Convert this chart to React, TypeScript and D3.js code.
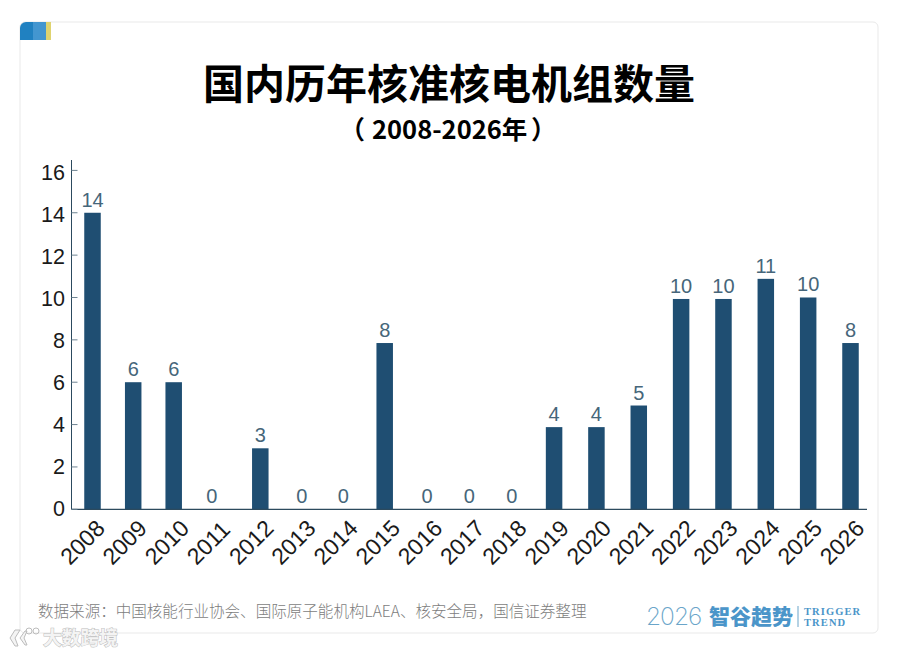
import React from "react";
import * as d3 from "d3";

const years = ["2008","2009","2010","2011","2012","2013","2014","2015","2016","2017","2018","2019","2020","2021","2022","2023","2024","2025","2026"];
const approvals = [14,6,6,0,2.88,0,0,7.85,0,0,0,3.88,3.88,4.9,9.93,9.93,10.88,10,7.85];
const yTicks = [0,2,4,6,8,10,12,14,16];

const title = "国内历年核准核电机组数量";
const subtitleRange = "2008-2026年";
const source = "数据来源：中国核能行业协会、国际原子能机构LAEA、核安全局，国信证券整理";
const flagColors = ["#2081c1", "#4396d0", "#dfd36f"];

const cjk = "'Noto Sans CJK SC', sans-serif";
const latin = "'Liberation Sans', Arial, sans-serif";
const serif = "'Liberation Serif', serif";

const width = 900;
const height = 655;
const axisX = 71.5;
const barWidth = 16.5;

export default function App() {
  // the columns in the source are not quite evenly spaced on the left side
  const x = d3
    .scaleLinear()
    .domain([2008, 2009, 2010, 2011, 2012, 2015, 2026])
    .range([92.5, 133.2, 173.7, 211.7, 260.3, 384.7, 850.5]);
  const labelX = d3.scalePoint<string>().domain(years).range([70, 829.5]);
  const y = d3.scaleLinear().domain([0, 16]).range([509.3, 170.4]);
  const tickLabelY = d3.scaleLinear().domain([0, 16]).range([516, 180]);
  const flagX = d3.scaleOrdinal<number, number>().domain([0, 1, 2]).range([20, 33, 46]);
  const flagW = [13, 13, 5];

  return (
    <svg
      width={width}
      height={height}
      style={{ position: "absolute", left: 0, top: 0, display: "block", background: "#fff" }}
    >
      {/* card */}
      <rect x={20} y={22} width={858} height={611} rx={5} fill="#fff" stroke="#e9e9e9" strokeWidth={1} />
      <clipPath id="flag-clip">
        <path d="M20 40V28a6 6 0 0 1 6-6H51V40Z" />
      </clipPath>
      <g clipPath="url(#flag-clip)">
        {flagColors.map((c, i) => (
          <rect key={c} x={flagX(i)} y={22} width={flagW[i]} height={18} fill={c} />
        ))}
      </g>

      <text x={449} y={98.5} textAnchor="middle" fontFamily={cjk} fontWeight={700} fontSize={41} fill="#000">
        {title}
      </text>
      <g fontFamily={cjk} fontWeight={700} fontSize={25.5} fill="#000">
        <text x={339.5} y={139}>（</text>
        <text x={372} y={139}>{subtitleRange}</text>
        <text x={531} y={139}>）</text>
      </g>

      {/* bars */}
      {years.map((year, i) => (
        <rect
          key={year}
          x={x(+year) - barWidth / 2}
          y={y(approvals[i])}
          width={barWidth}
          height={y(0) - y(approvals[i])}
          fill="#1f4e72"
        />
      ))}
      {years.map((year, i) => (
        <text
          key={year}
          x={x(+year)}
          y={y(approvals[i]) - 6}
          textAnchor="middle"
          fontFamily={latin}
          fontSize={20}
          fill="#46667a"
        >
          {Math.round(approvals[i])}
        </text>
      ))}

      {/* axes */}
      <line x1={axisX} x2={axisX} y1={160} y2={509.3} stroke="#2c4a5e" strokeWidth={1} />
      <line x1={axisX} x2={867} y1={509.3} y2={509.3} stroke="#2c4a5e" strokeWidth={1.2} />
      {yTicks.map((t) => (
        <g key={t}>
          <line x1={axisX} x2={axisX + 6} y1={y(t)} y2={y(t)} stroke="#6d8391" strokeWidth={1} />
          <text x={65} y={tickLabelY(t)} textAnchor="end" fontFamily={latin} fontSize={21.5} fill="#1a1a1a">
            {t}
          </text>
        </g>
      ))}
      {years.map((year) => (
        <text
          key={year}
          transform={`translate(${labelX(year)},566) rotate(-45)`}
          fontFamily={latin}
          fontSize={23}
          fill="#1a1a1a"
        >
          {year}
        </text>
      ))}

      <text x={38} y={617} fontFamily={cjk} fontWeight={300} fontSize={15.55} fill="#7d7d7d">
        {source}
      </text>

      {/* logo */}
      <text x={646} y={625} fontFamily="'Inter', sans-serif" fontWeight={200} fontSize={24.5} letterSpacing={-1} fill="#6aa5c9">
        2026
      </text>
      <text x={709} y={624} fontFamily={cjk} fontWeight={900} fontSize={21} fill="#4b95c9">
        智谷趋势
      </text>
      <line x1={798} x2={798} y1={606} y2={627} stroke="#6aa5c9" strokeWidth={1} />
      <text x={804} y={614.5} fontFamily={serif} fontWeight={700} fontSize={10.5} letterSpacing={1.1} fill="#4b95c9">
        TRIGGER
      </text>
      <text x={804} y={626} fontFamily={serif} fontWeight={700} fontSize={10.5} letterSpacing={1.1} fill="#4b95c9">
        TREND
      </text>

      {/* watermark */}
      <g fill="#f4f4f4" stroke="#bcbcbc" strokeWidth={1}>
        <text x={43} y={645} fontFamily={cjk} fontWeight={700} fontSize={18.8} style={{ paintOrder: "stroke" }}>
          大数跨境
        </text>
        <path d="M15 630l-5 8 5 8h3l-3-8 5-8zM20 638l5-7h2l-3 7 3 7h-2z" />
        <circle cx={29} cy={631} r={3} fill="none" />
        <circle cx={36} cy={631} r={3} fill="none" />
      </g>
    </svg>
  );
}
